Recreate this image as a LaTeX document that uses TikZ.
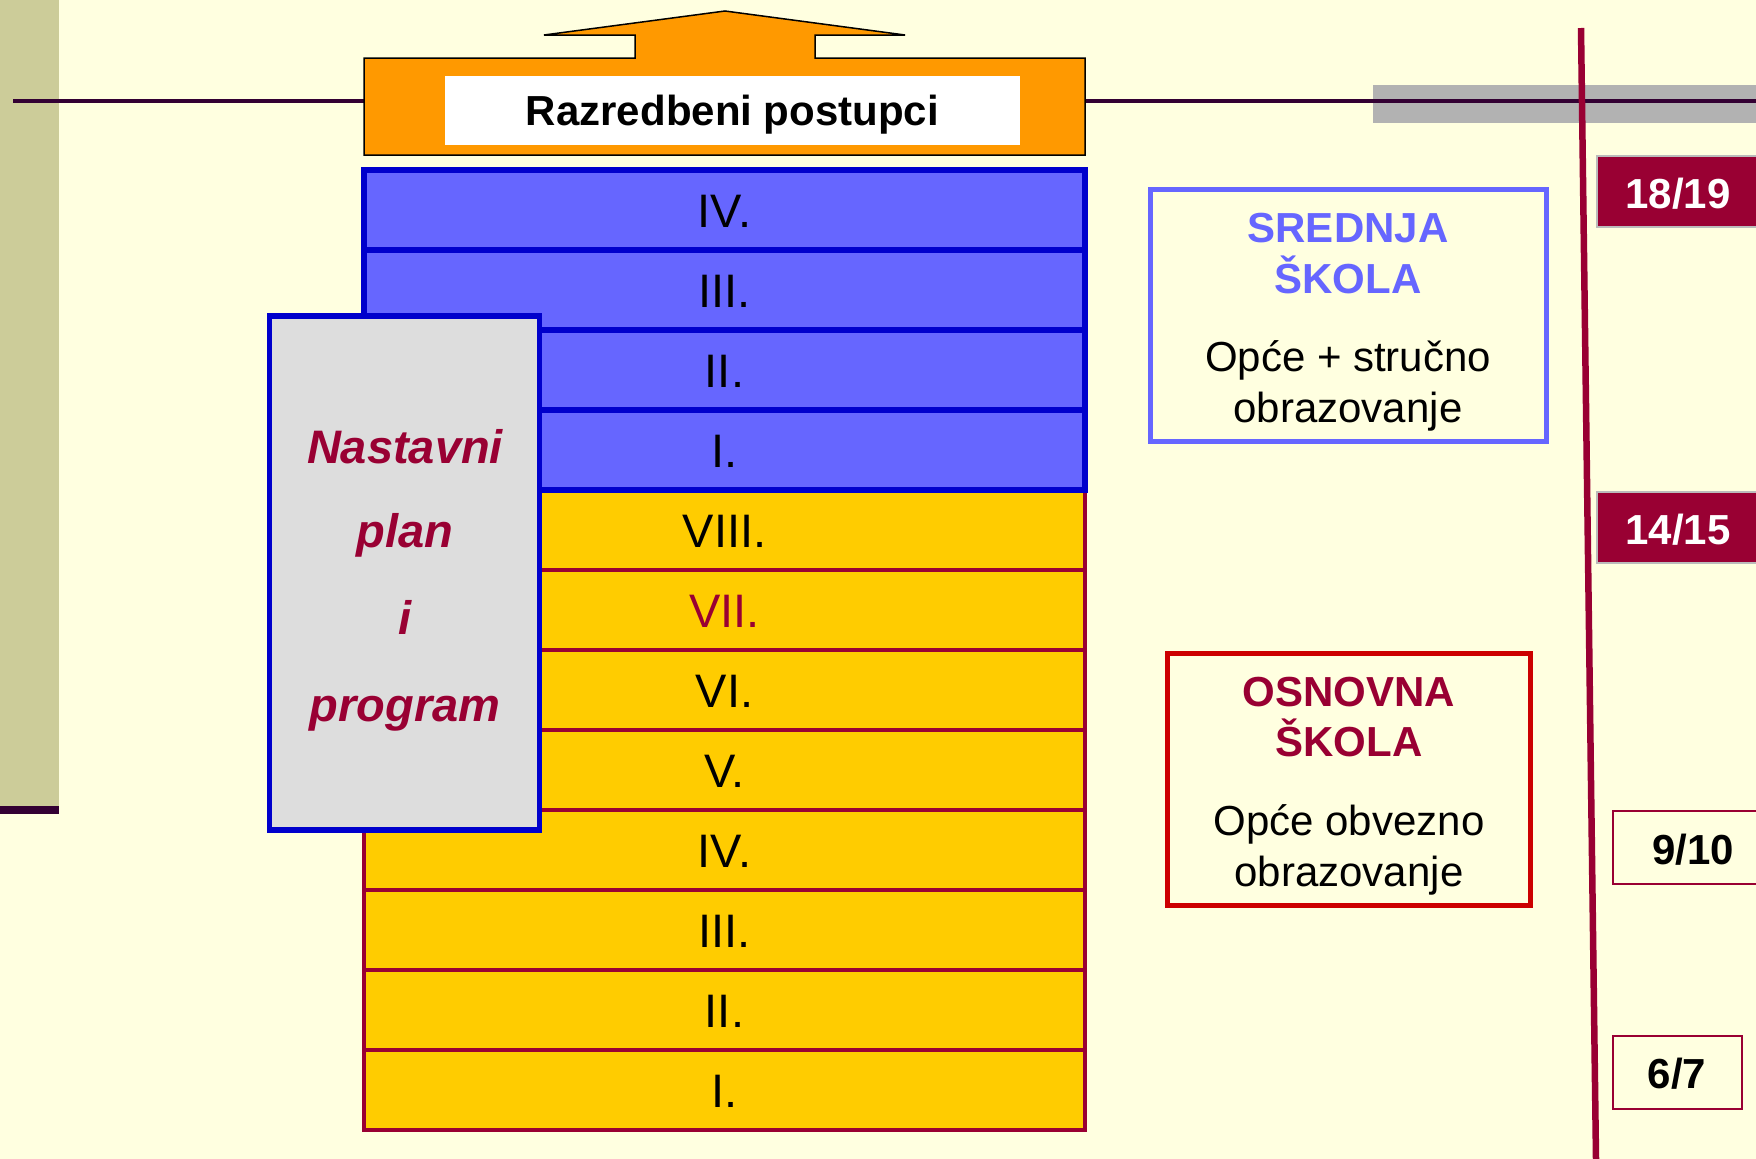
\documentclass[tikz,border=0pt]{standalone}
\usepackage{fontspec}
\setmainfont{Liberation Sans}
\definecolor{bg}{HTML}{FFFFE0}
\definecolor{tanband}{HTML}{CCCC99}
\definecolor{darkline}{HTML}{330033}
\definecolor{graybar}{HTML}{B2B2B2}
\definecolor{maroon}{HTML}{990033}
\definecolor{orangefill}{HTML}{FF9900}
\definecolor{bluefill}{HTML}{6666FF}
\definecolor{blueborder}{HTML}{0000CC}
\definecolor{yellowfill}{HTML}{FFCC00}
\definecolor{grayfill}{HTML}{DDDDDD}
\definecolor{redborder}{HTML}{CC0000}
\definecolor{yearedge}{HTML}{BBBBBB}
\tikzset{
  rowbox/.style={rectangle, inner sep=0pt, minimum width=721, minimum height=80,
    font=\fontsize{47}{56}\selectfont, text height=34, text depth=0},
  bluerow/.style={rowbox, fill=bluefill, draw=blueborder, line width=5.5},
  yellowrow/.style={rowbox, fill=yellowfill, draw=maroon, line width=3.5},
  txt42/.style={inner sep=0pt, font=\fontsize{42}{50}\selectfont, text height=30, text depth=0},
  txt42b/.style={inner sep=0pt, font=\fontsize{42}{50}\selectfont\bfseries, text height=30, text depth=0},
  txt47bi/.style={inner sep=0pt, font=\fontsize{47}{56}\selectfont\bfseries\itshape, text height=34, text depth=0, text=maroon},
}
\begin{document}
\begin{tikzpicture}[x=1pt,y=-1pt]
\useasboundingbox (0,0) rectangle (1756,1159);
\fill[bg] (0,0) rectangle (1756,1159);
% left band
\fill[tanband] (0,0) rectangle (59,806);
\fill[darkline] (0,806) rectangle (59,814);
% gray bar and horizontal line
\fill[graybar] (1373,85) rectangle (1756,123);
\coordinate (hlA) at (13,101);
\coordinate (hlB) at (1756,101);
\draw[darkline, line width=4] (hlA) -- (hlB);
% orange arrow box
\draw[fill=orangefill, draw=black, line width=1.5]
  (364,155) -- (364,58) -- (635,58) -- (635,35) -- (544,35) -- (725,11)
  -- (905,35) -- (815,35) -- (815,58) -- (1085,58) -- (1085,155) -- cycle;
\node[fill=white, inner sep=0pt, minimum width=575, minimum height=69,
  font=\fontsize{42}{50}\selectfont\bfseries, text height=30, text depth=0]
  (razr) at (732.5,110) {Razredbeni postupci};
% yellow rows
\node[yellowrow] (y8) at (724.5,530) {VIII.};
\node[yellowrow, text=maroon] (y7) at (724.5,610) {VII.};
\node[yellowrow] (y6) at (724.5,690) {VI.};
\node[yellowrow] (y5) at (724.5,770) {V.};
\node[yellowrow] (y4) at (724.5,850) {IV.};
\node[yellowrow] (y3) at (724.5,930) {III.};
\node[yellowrow] (y2) at (724.5,1010) {II.};
\node[yellowrow] (y1) at (724.5,1090) {I.};
% blue rows
\node[bluerow] (b4) at (724.5,210) {IV.};
\node[bluerow] (b3) at (724.5,290) {III.};
\node[bluerow] (b2) at (724.5,370) {II.};
\node[bluerow] (b1) at (724.5,450) {I.};
% gray box
\node[rectangle, fill=grayfill, draw=blueborder, line width=5.5, minimum width=270, minimum height=514, inner sep=0pt] (plan) at (404.5,573) {};
\node[txt47bi] (p1) at (405,446) {Nastavni};
\node[txt47bi] (p2) at (405,530) {plan};
\node[txt47bi] (p3) at (405,617) {i};
\node[txt47bi] (p4) at (405,704) {program};
% srednja skola box
\node[rectangle, draw=bluefill, line width=5, minimum width=396.5, minimum height=252.5, inner sep=0pt] (srednja) at (1348.5,315.5) {};
\node[txt42b, text=bluefill] (s1) at (1348,227) {SREDNJA};
\node[txt42b, text=bluefill] (s2) at (1348,278) {ŠKOLA};
\node[txt42] (s3) at (1348,356) {Opće + stručno};
\node[txt42] (s4) at (1348,407) {obrazovanje};
% osnovna skola box
\node[rectangle, draw=redborder, line width=5.5, minimum width=363, minimum height=252, inner sep=0pt] (osnovna) at (1349,779.5) {};
\node[txt42b, text=maroon] (o1) at (1349,691) {OSNOVNA};
\node[txt42b, text=maroon] (o2) at (1349,741) {ŠKOLA};
\node[txt42] (o3) at (1349,820) {Opće obvezno};
\node[txt42] (o4) at (1349,871) {obrazovanje};
% vertical line
\coordinate (vA) at (1581,28);
\coordinate (vB) at (1596,1159);
\draw[maroon, line width=6.5] (vA) -- (vB);
% year boxes
\draw[fill=maroon, draw=yearedge, line width=1.5] (1597,156) rectangle (1760,227);
\node[txt42b, text=white] (t1819) at (1678,193) {18/19};
\draw[fill=maroon, draw=yearedge, line width=1.5] (1597,492) rectangle (1760,563);
\node[txt42b, text=white] (t1415) at (1678,529) {14/15};
\draw[draw=maroon, line width=2] (1613,811) rectangle (1760,884);
\node[txt42b] (t910) at (1693,849) {9/10};
\draw[draw=maroon, line width=2] (1613,1036) rectangle (1742,1109);
\node[txt42b] (t67) at (1677,1073) {6/7};
\end{tikzpicture}
\end{document}
